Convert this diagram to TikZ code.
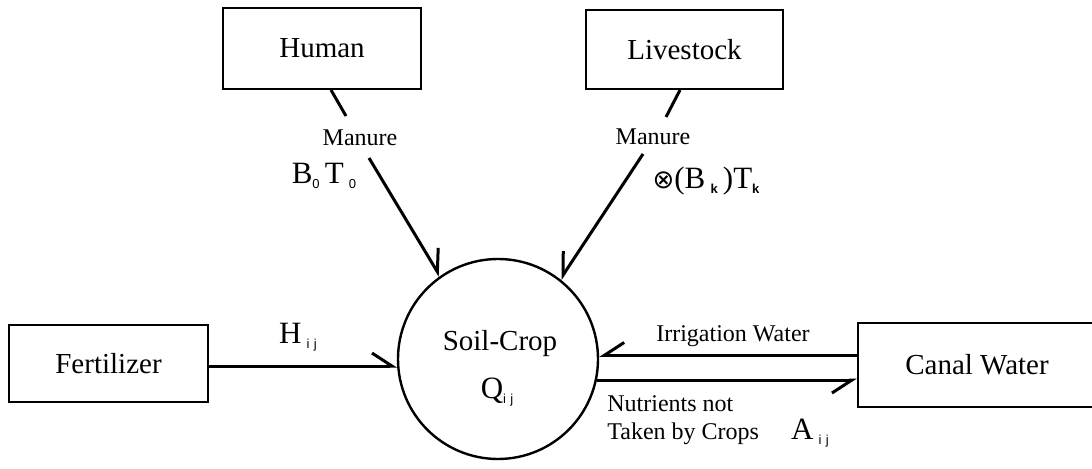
\documentclass[tikz,border=0pt]{standalone}
\usepackage{fontspec}
\setmainfont{Liberation Serif}
\setsansfont{Liberation Sans}
\newfontfamily\symfont{DejaVu Sans}
\usetikzlibrary{arrows.meta,calc}

% small spaced subscript used in the flow symbols
\newcommand{\flowsub}[1]{\raisebox{-2.6pt}{\sffamily\fontsize{6.5}{7}\selectfont #1}}

\tikzset{
  box/.style={draw, line width=1pt, inner sep=0pt, font=\fontsize{14.5}{16}\selectfont},
  pool/.style={draw, circle, line width=1.2pt, inner sep=0pt, minimum size=100pt, align=center,
               font=\fontsize{14.5}{16}\selectfont},
  flow/.style={line width=1.5pt},
  barbL/.style={flow, -{Straight Barb[left, length=10pt, width=13pt, line width=1.5pt]}},
  barbR/.style={flow, -{Straight Barb[right, length=10pt, width=13pt, line width=1.5pt]}},
  lbl/.style={inner sep=0pt, font=\fontsize{12}{13}\selectfont, align=left},
  sym/.style={inner sep=0pt, font=\fontsize{15.5}{17}\selectfont}
}

\begin{document}
\begin{tikzpicture}[x=0.5pt, y=-0.5pt]
\useasboundingbox (0,0) rectangle (1092,469);

% sources and sinks
\node[box, minimum width=99pt, minimum height=40.5pt] (human) at (322,48.5) {Human};
\node[box, minimum width=98.5pt, minimum height=39.5pt] (live) at (684.5,49.5) {Livestock};
\node[box, minimum width=99.5pt, minimum height=38.5pt] (fert) at (108.5,363.5) {Fertilizer};
\node[box, minimum width=119pt, minimum height=42pt] (canal) at (977,365) {Canal Water};

% central soil-crop pool
\node[pool] (soil) at (498,359) {};
\node[inner sep=0pt, font=\fontsize{14.5}{16}\selectfont] (soiltxt) at (500,344) {Soil-Crop};
\node[sym] (qij) at (497,392) {Q\flowsub{i\,\,j}};

% manure from humans
\coordinate (hstub) at (346,116);
\coordinate (hflow) at (369,158);
\draw[flow] ($(human.south)+(9,0)$) -- (hstub);
\node[lbl] (hman) at (360,138) {Manure};
\node[sym] (hbt) at (324,176) {B\flowsub{0}\,T\,\flowsub{0}};
\draw[barbL] (hflow) -- (soil.125);

% manure from livestock
\coordinate (lstub) at (666,117);
\coordinate (lflow) at (643,154);
\draw[flow] ($(live.south)+(-4.5,0)$) -- (lstub);
\node[lbl] (lman) at (653,137) {Manure};
\node[sym] (lbt) at (706,181) {{\symfont\fontsize{13}{14}\selectfont ⊗}(B\,\flowsub{\textbf{k}}\,)T\flowsub{\textbf{k}}};
\draw[barbR] (lflow) -- (soil.52);

% fertilizer input
\draw[barbL] (soil.184 -| fert.east) -- (soil.184);
\node[sym] (hij) at (298,337) {H\,\flowsub{i\,\,j}};

% exchange with the canal
\draw[barbR] (soil.2.5 -| canal.west) -- (soil.2.5);
\draw[barbR] (soil.-12 -| soil.-12) -- (soil.-12 -| canal.west);
\node[lbl] (irr) at (733,336) {Irrigation Water};
\node[lbl, anchor=west] (nut) at (607,420) {Nutrients not\\[1pt]Taken by Crops};
\node[sym] (aij) at (810,433) {A\,\flowsub{i\,\,j}};
\end{tikzpicture}
\end{document}
